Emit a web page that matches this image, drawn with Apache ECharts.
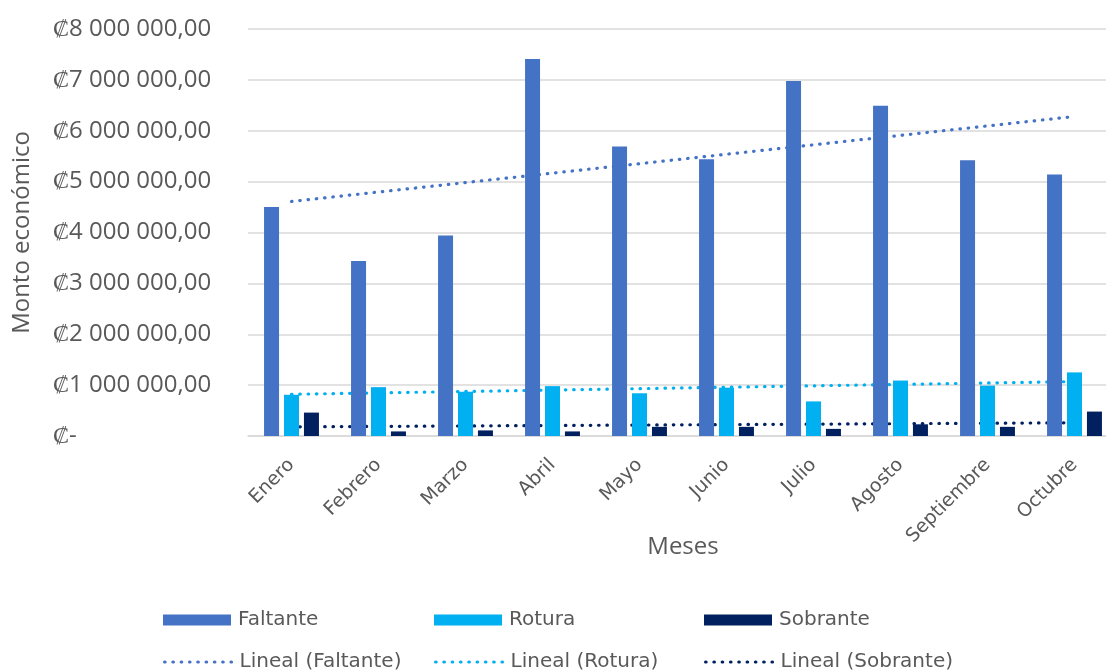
<!DOCTYPE html>
<html>
<head>
<meta charset="utf-8">
<script src="https://cdn.jsdelivr.net/npm/echarts@6/dist/echarts.min.js"></script>
<style>
  html, body { margin: 0; padding: 0; background: #fff; overflow: hidden; }
  /* el gráfico original está recortado a la derecha */
  #chart { width: 1118px; height: 671px; }
</style>
</head>
<body>
<div id="chart"></div>
<script>
// datos
const meses = ['Enero', 'Febrero', 'Marzo', 'Abril', 'Mayo', 'Junio', 'Julio', 'Agosto', 'Septiembre', 'Octubre'];
const faltante = [4500000, 3440000, 3940000, 7410000, 5690000, 5440000, 6980000, 6490000, 5420000, 5140000];
const rotura = [810000, 960000, 870000, 980000, 840000, 950000, 680000, 1090000, 990000, 1250000];
const sobrante = [460000, 90000, 110000, 90000, 180000, 180000, 140000, 230000, 180000, 480000];
// líneas de tendencia: extremos leídos (primer y último mes)
const tendFaltante = [4610000, null, null, null, null, null, null, null, null, 6280000];
const tendRotura = [820000, null, null, null, null, null, null, null, null, 1070000];
const tendSobrante = [180000, null, null, null, null, null, null, null, null, 260000];
const yTicks = { min: 0, max: 8000000, interval: 1000000 };

const gris = '#595959';
const punteado = [0.5, 7.8];

const fmtColon = (v) => {
  if (v === 0) return '₡-';
  const s = Math.round(v).toString().replace(/\B(?=(\d{3})+(?!\d))/g, ' ');
  return '₡' + s + ',00';
};

const chart = echarts.init(document.getElementById('chart'));

const barra = (name, data, color) => ({
  name: name,
  type: 'bar',
  data: data,
  barWidth: 15,
  barGap: '33%',
  z: 3,
  itemStyle: { color: color }
});

const tendencia = (name, data, color) => ({
  name: name,
  type: 'line',
  data: data,
  connectNulls: true,
  symbol: 'none',
  z: 1,
  lineStyle: { color: color, width: 3.2, type: punteado, cap: 'round' },
  itemStyle: { color: color }
});

// una leyenda por elemento para colocarlas en columnas como en Excel
const leyenda = (left, top, name, esLinea) => ({
  left: left,
  top: top,
  padding: 0,
  itemWidth: 68,
  itemHeight: 11,
  data: [esLinea ? name : { name: name, icon: 'rect' }],
  itemStyle: esLinea ? { opacity: 0 } : {},
  lineStyle: esLinea ? { width: 3.2, type: punteado, cap: 'round' } : {},
  textStyle: { color: gris, fontSize: 20, fontFamily: 'DejaVu Sans', lineHeight: 20, padding: [0, 0, 0, 2] }
});

const option = {
  animation: false,
  textStyle: { fontFamily: 'DejaVu Sans' },
  grid: { left: 248, top: 29, right: 0, height: 407 },
  legend: [
    leyenda(163, 610, 'Faltante', false),
    leyenda(434, 610, 'Rotura', false),
    leyenda(704, 610, 'Sobrante', false),
    leyenda(163, 652, 'Lineal (Faltante)', true),
    leyenda(434, 652, 'Lineal (Rotura)', true),
    leyenda(704, 652, 'Lineal (Sobrante)', true)
  ],
  xAxis: {
    type: 'category',
    data: meses,
    name: 'Meses',
    nameLocation: 'middle',
    nameGap: 99,
    nameMoveOverlap: false,
    nameTextStyle: { color: gris, fontSize: 24, fontFamily: 'Open Sans' },
    axisLine: { lineStyle: { color: '#D9D9D9', width: 1.5 } },
    axisTick: { show: false },
    axisLabel: { rotate: 45, margin: 26, color: gris, fontSize: 19, fontFamily: 'DejaVu Sans' }
  },
  yAxis: {
    type: 'value',
    min: yTicks.min,
    max: yTicks.max,
    interval: yTicks.interval,
    name: 'Monto económico',
    nameLocation: 'middle',
    nameGap: 214,
    nameMoveOverlap: false,
    nameTextStyle: { color: gris, fontSize: 24, fontFamily: 'Open Sans' },
    axisLine: { show: false },
    axisTick: { show: false },
    splitLine: { lineStyle: { color: '#D9D9D9', width: 1.5 } },
    axisLabel: {
      formatter: fmtColon,
      align: 'left',
      margin: 195,
      color: gris,
      fontSize: 24,
      fontFamily: 'Open Sans'
    }
  },
  series: [
    barra('Faltante', faltante, '#4472C4'),
    barra('Rotura', rotura, '#00B0F0'),
    barra('Sobrante', sobrante, '#002060'),
    tendencia('Lineal (Faltante)', tendFaltante, '#4472C4'),
    tendencia('Lineal (Rotura)', tendRotura, '#00B0F0'),
    tendencia('Lineal (Sobrante)', tendSobrante, '#002060')
  ]
};

chart.setOption(option);
</script>
</body>
</html>
